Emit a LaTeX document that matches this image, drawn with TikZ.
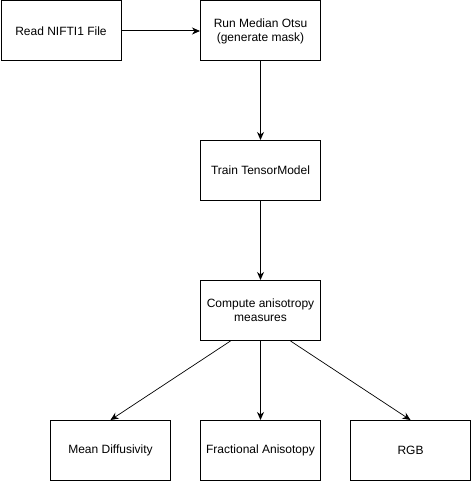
\documentclass[tikz,border=0pt]{standalone}
\usepackage{fontspec}
\setmainfont{Liberation Sans}
\usetikzlibrary{arrows.meta}
\begin{document}
\begin{tikzpicture}[x=1pt,y=-1pt,
  box/.style={draw=black,line width=1pt,minimum width=120pt,minimum height=60pt,inner sep=2pt,align=center,font=\fontsize{12}{14}\selectfont,anchor=north west,fill=white},
  conn/.style={line width=1pt,-{Stealth[length=8pt,width=7pt,inset=2.5pt]}},
  diag/.style={line width=0.7pt,-{Stealth[length=8pt,width=7pt,inset=2.5pt]}}]
\useasboundingbox (0,0) rectangle (471,481);
\node[box] (read) at (0.5,0.5) {Read NIFTI1 File};
\node[box] (otsu) at (200,0.5) {Run Median Otsu\\(generate mask)};
\node[box] (train) at (200,140) {Train TensorModel};
\node[box] (comp) at (200,280) {Compute anisotropy\\measures};
\node[box] (md) at (50,420) {Mean Diffusivity};
\node[box] (fa) at (200,420) {Fractional Anisotopy};
\node[box] (rgb) at (350,420) {RGB};
\draw[conn] (read.east) -- (otsu.west);
\draw[conn] (otsu.south) -- (train.north);
\draw[conn] (train.south) -- (comp.north);
\draw[diag] ([xshift=-30pt]comp.south) -- (md.north);
\draw[conn] (comp.south) -- (fa.north);
\draw[diag] ([xshift=30pt]comp.south) -- (rgb.north);
\end{tikzpicture}
\end{document}
